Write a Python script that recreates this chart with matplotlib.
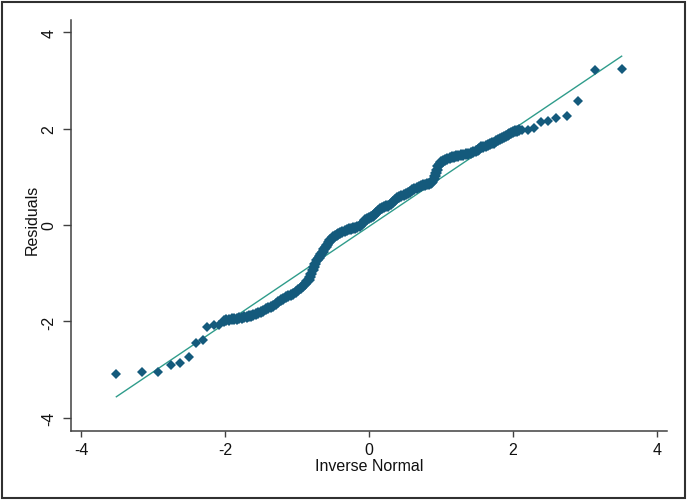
import matplotlib
matplotlib.use("Agg")
import matplotlib.pyplot as plt
from matplotlib.patches import Rectangle

plt.rcParams['font.family'] = ['Liberation Sans', 'DejaVu Sans']

# Quantile pairs (inverse normal, residual)
tail_low_x = [-3.52, -3.16, -2.93, -2.75, -2.63, -2.50, -2.41, -2.31, -2.25, -2.16, -2.08]
tail_low_y = [-3.09, -3.04, -3.04, -2.90, -2.87, -2.74, -2.45, -2.39, -2.11, -2.07, -2.07]

band_x = [
    -2.02, -1.98, -1.95, -1.91, -1.88, -1.84, -1.80, -1.77, -1.74, -1.70,
    -1.67, -1.64, -1.61, -1.57, -1.54, -1.50, -1.47, -1.43, -1.40, -1.36,
    -1.33, -1.29, -1.26, -1.22, -1.19, -1.15, -1.12, -1.08, -1.05, -1.01,
    -0.98, -0.95, -0.92, -0.89, -0.86, -0.84, -0.82, -0.80, -0.78, -0.765,
    -0.75, -0.72, -0.70, -0.68, -0.66, -0.64, -0.62, -0.60, -0.58, -0.56,
    -0.54, -0.52, -0.50, -0.475, -0.45, -0.425, -0.40, -0.37, -0.34, -0.31,
    -0.28, -0.25, -0.22, -0.19, -0.16, -0.13, -0.10, -0.075, -0.05, -0.025,
    0.00, 0.025, 0.05, 0.075, 0.10, 0.125, 0.15, 0.18, 0.21, 0.24,
    0.27, 0.30, 0.33, 0.36, 0.39, 0.42, 0.45, 0.48, 0.51, 0.54,
    0.57, 0.60, 0.63, 0.66, 0.69, 0.72, 0.75, 0.78, 0.81, 0.835,
    0.86, 0.88, 0.90, 0.915, 0.93, 0.945, 0.96, 0.98, 1.00, 1.03,
    1.06, 1.09, 1.12, 1.15, 1.18, 1.21, 1.24, 1.275, 1.31, 1.345,
    1.38, 1.415, 1.45, 1.48, 1.51, 1.535, 1.56, 1.59, 1.62, 1.65,
    1.68, 1.705, 1.73, 1.76, 1.79, 1.82, 1.85, 1.875, 1.90, 1.925,
    1.95, 1.975, 2.00, 2.025, 2.05, 2.09,
]
band_y = [
    -1.98, -1.97, -1.96, -1.955, -1.95, -1.94, -1.93, -1.92, -1.91, -1.90,
    -1.89, -1.88, -1.87, -1.85, -1.83, -1.80, -1.78, -1.75, -1.72, -1.70,
    -1.67, -1.63, -1.60, -1.56, -1.53, -1.50, -1.47, -1.45, -1.42, -1.39,
    -1.35, -1.31, -1.27, -1.22, -1.17, -1.13, -1.08, -1.01, -0.93, -0.87,
    -0.80, -0.73, -0.68, -0.64, -0.60, -0.55, -0.50, -0.45, -0.41, -0.36,
    -0.32, -0.28, -0.25, -0.22, -0.20, -0.185, -0.17, -0.15, -0.13, -0.11,
    -0.09, -0.08, -0.07, -0.055, -0.04, -0.01, 0.02, 0.06, 0.10, 0.13,
    0.15, 0.165, 0.18, 0.21, 0.24, 0.29, 0.33, 0.36, 0.38, 0.39,
    0.40, 0.44, 0.48, 0.52, 0.55, 0.58, 0.60, 0.63, 0.65, 0.67,
    0.69, 0.72, 0.74, 0.76, 0.78, 0.80, 0.82, 0.83, 0.84, 0.855,
    0.87, 0.90, 0.95, 1.01, 1.08, 1.15, 1.22, 1.27, 1.30, 1.33,
    1.35, 1.37, 1.39, 1.405, 1.42, 1.43, 1.44, 1.45, 1.46, 1.47,
    1.48, 1.495, 1.51, 1.53, 1.55, 1.58, 1.61, 1.625, 1.64, 1.66,
    1.68, 1.695, 1.71, 1.735, 1.76, 1.78, 1.80, 1.82, 1.84, 1.86,
    1.88, 1.90, 1.92, 1.94, 1.95, 1.97,
]

tail_high_x = [2.13, 2.21, 2.29, 2.39, 2.48, 2.60, 2.75, 2.91, 3.14, 3.51]
tail_high_y = [1.98, 1.97, 2.02, 2.13, 2.16, 2.21, 2.25, 2.58, 3.21, 3.23]

# Reference line, drawn between the extreme quantiles
line_x = [-3.51, 3.51]
line_y = [-3.56, 3.50]

x_ticks = [-4, -2, 0, 2, 4]
y_ticks = [-4, -2, 0, 2, 4]

W, H = 688, 502
fig = plt.figure(figsize=(W / 100, H / 100), dpi=100)
fig.patch.set_facecolor('white')
ax = fig.add_axes([71 / W, (H - 432) / H, (667 - 71) / W, (432 - 21) / H])
ax.set_xlim(-4.14, 4.14)
ax.set_ylim(-4.27, 4.25)

ax.plot(line_x, line_y, color='#2f9c8b', lw=1.0, zorder=2)
mk = dict(linestyle='none', marker='D', color='#145a7c', markeredgewidth=0, zorder=3)
ax.plot(tail_low_x, tail_low_y, ms=5.0, **mk)
ax.plot(band_x, band_y, ms=6.3, **mk)
ax.plot(tail_high_x, tail_high_y, ms=5.0, **mk)

for s in ['top', 'right']:
    ax.spines[s].set_visible(False)
for s in ['left', 'bottom']:
    ax.spines[s].set_color('#404040')
    ax.spines[s].set_linewidth(1.1)

ax.set_xticks(x_ticks)
ax.set_yticks(y_ticks)
ax.set_xticklabels([str(t) for t in x_ticks])
ax.set_yticklabels([str(t) for t in y_ticks], rotation=90, va='center')
ax.tick_params(axis='both', direction='out', width=1.0,
               color='#404040', labelsize=11.5, labelcolor='#111111')
ax.tick_params(axis='x', length=4, pad=4)
ax.tick_params(axis='y', length=5.5, pad=5)

ax.set_xlabel('Inverse Normal', fontsize=11.5, color='#111111', labelpad=1)
ax.set_ylabel('Residuals', fontsize=11.5, color='#111111')
ax.yaxis.set_label_coords(-0.052, 0.516)

fig.patches.append(Rectangle((2 / W, 3 / H), (685 - 2) / W, (499 - 3) / H,
                             transform=fig.transFigure, fill=False,
                             edgecolor='#303030', lw=1.5))

fig.savefig('out.png', dpi=100, facecolor='white')
